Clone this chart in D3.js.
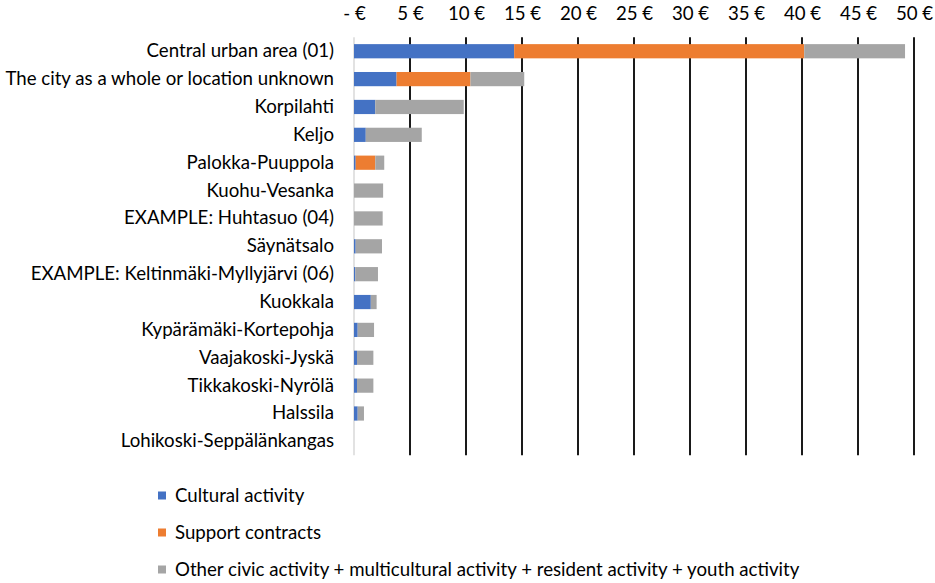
<!DOCTYPE html>
<html>
<head>
<meta charset="utf-8">
<script src="https://cdn.jsdelivr.net/npm/d3@7"></script>
<style>
  body { margin: 0; background: #fff; }
  svg { display: block; }
  text { font-family: Lato, "Open Sans", sans-serif; fill: #000; }
</style>
</head>
<body>
<svg id="chart" width="935" height="583"></svg>
<script>
const categories = [
  "Central urban area (01)",
  "The city as a whole or location unknown",
  "Korpilahti",
  "Keljo",
  "Palokka-Puuppola",
  "Kuohu-Vesanka",
  "EXAMPLE: Huhtasuo (04)",
  "Säynätsalo",
  "EXAMPLE: Keltinmäki-Myllyjärvi (06)",
  "Kuokkala",
  "Kypärämäki-Kortepohja",
  "Vaajakoski-Jyskä",
  "Tikkakoski-Nyrölä",
  "Halssila",
  "Lohikoski-Seppälänkangas"
];
const cultural = [14.3, 3.8, 1.9, 1.05, 0.15, 0, 0, 0.15, 0.12, 1.5, 0.33, 0.27, 0.27, 0.33, 0];
const support  = [25.9, 6.6, 0, 0, 1.75, 0, 0, 0, 0, 0, 0, 0, 0, 0, 0];
const other    = [9.0, 4.8, 7.9, 5.0, 0.8, 2.6, 2.56, 2.35, 2.02, 0.52, 1.46, 1.46, 1.46, 0.56, 0];
const seriesNames = [
  "Cultural activity",
  "Support contracts",
  "Other civic activity + multicultural activity + resident activity + youth activity"
];
const seriesColors = ["#4472C4", "#ED7D31", "#A5A5A5"];
const tickValues = [0, 5, 10, 15, 20, 25, 30, 35, 40, 45, 50];
const tickLabels = ["- €", "5 €", "10 €", "15 €", "20 €", "25 €", "30 €", "35 €", "40 €", "45 €", "50 €"];

const svg = d3.select("#chart");

// pick a font size so that the longest category label spans like the reference
const probe = svg.append("text").attr("font-size", 16).text(categories[1]);
const w16 = probe.node().getComputedTextLength();
probe.remove();
const FS = Math.min(19, 16 * 329 / w16);

const TOP = 37.3, BOTTOM = 455.3;
const x = d3.scaleLinear().domain([0, 50]).range([354, 914]);
const y = d3.scaleBand().domain(categories).range([TOP, BOTTOM]).paddingInner(0.49).paddingOuter(0.245);

const rows = categories.map((c, i) => ({ cat: c, vals: [cultural[i], support[i], other[i]] }));
const stacked = d3.stack().keys([0, 1, 2]).value((d, k) => d.vals[k])(rows);

// gridlines
svg.append("g").selectAll("line")
  .data(tickValues.filter(v => v > 0))
  .join("line")
  .attr("x1", d => x(d)).attr("x2", d => x(d))
  .attr("y1", TOP).attr("y2", BOTTOM)
  .attr("stroke", "#1a1a1a").attr("stroke-width", 2);

// zero axis line
svg.append("line")
  .attr("x1", x(0)).attr("x2", x(0)).attr("y1", TOP).attr("y2", BOTTOM)
  .attr("stroke", "#d9d9d9").attr("stroke-width", 1.5);

// top tick labels via axis
const axis = d3.axisTop(x).tickValues(tickValues)
  .tickFormat((d, i) => tickLabels[i]).tickSize(0).tickPadding(0);
const ag = svg.append("g").attr("transform", "translate(0,20)").call(axis);
ag.select(".domain").remove();
ag.selectAll("text").attr("font-size", FS).attr("font-family", "Lato, sans-serif").attr("fill", "#000");

// bars
svg.append("g").selectAll("g")
  .data(stacked)
  .join("g")
  .attr("fill", (d, i) => seriesColors[i])
  .selectAll("rect")
  .data(d => d)
  .join("rect")
  .attr("x", d => x(d[0]))
  .attr("width", d => Math.max(0, x(d[1]) - x(d[0])))
  .attr("y", d => y(d.data.cat))
  .attr("height", y.bandwidth());

// category labels
const yAxis = d3.axisLeft(y).tickSize(0).tickPadding(20);
const yg = svg.append("g").attr("transform", `translate(${x(0)},0)`).call(yAxis);
yg.select(".domain").remove();
yg.selectAll("text").attr("font-size", FS).attr("font-family", "Lato, sans-serif").attr("fill", "#000");

// legend
const lg = svg.append("g").selectAll("g")
  .data(seriesNames)
  .join("g")
  .attr("transform", (d, i) => `translate(158, ${495.5 + i * 37})`);
lg.append("rect").attr("x", 0).attr("y", -4).attr("width", 8).attr("height", 8)
  .attr("fill", (d, i) => seriesColors[i]);
lg.append("text").attr("x", 17).attr("dy", "0.35em").attr("font-size", FS).text(d => d);
</script>
</body>
</html>
